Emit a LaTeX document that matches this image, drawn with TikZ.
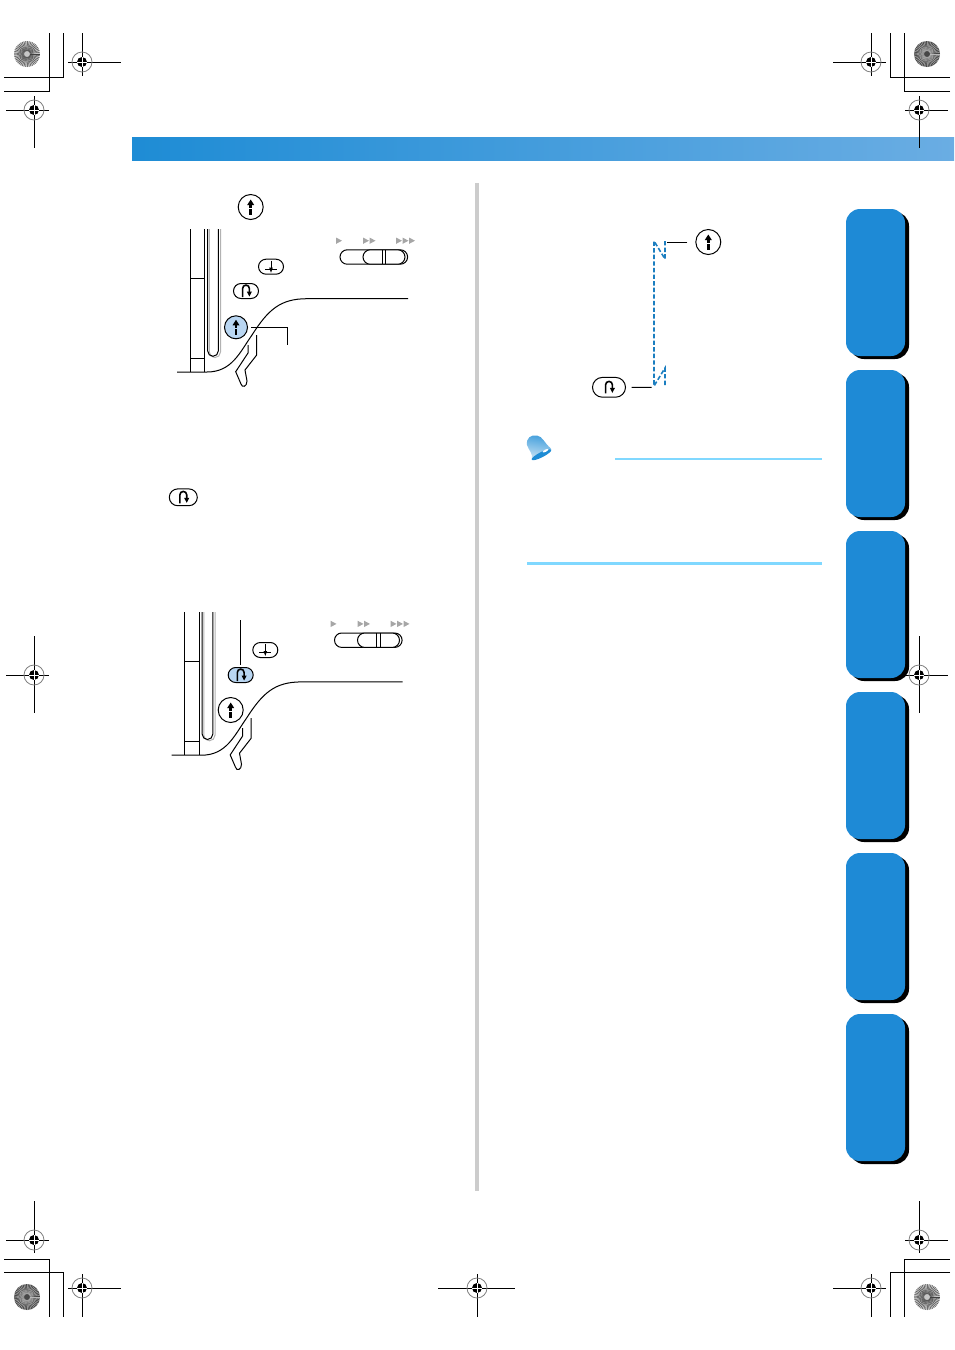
\documentclass[tikz,border=0pt]{standalone}
\usetikzlibrary{shapes.misc}

\definecolor{bandblue}{HTML}{1E8CD5}
\definecolor{bandlight}{HTML}{6AADE3}
\definecolor{tabblue}{HTML}{1E8AD6}
\definecolor{keyblue}{HTML}{B9D6F2}
\definecolor{ruleblue}{HTML}{80D8FF}

% glyphs of the machine keys, drawn around the middle of their node
\newcommand{\upglyph}{%
    \fill[black] (0,-7.5) -- (3.5,-2) -- (-3.5,-2) -- cycle;
    \fill[black] (-1.3,-3) rectangle (1.3,0.5);
    \fill[black] (-1.3,2) rectangle (1.3,8);
}
\newcommand{\revglyph}{%
    \draw[line width=0.8pt] (-3.4,6) -- (-3.4,-2.5) arc[start angle=180, end angle=360, radius=3.4] -- (3.4,1);
    \fill[black] (0.8,0.5) -- (6,0.5) -- (3.4,5.5) -- cycle;
}
\newcommand{\needleglyph}{%
    \draw (-6,2.5) -- (6,2.5);
    \draw (0,-6) -- (0,3);
    \fill[black] (-1.8,1) -- (1.8,1) -- (0,6) -- cycle;
}

% the arm, slider and lever that both panels share
\newcommand{\machinepanel}{%
    \draw (190.3,229) -- (190.3,372);
    \draw (204.7,229) -- (204.7,372);
    \draw (190.3,278) -- (204.7,278);
    \draw (190.3,358) -- (204.7,358);
    \draw[gray!60] (209.3,229) -- (209.3,352) arc[start angle=180, end angle=0, radius=5.6] -- (220.5,229);
    \draw (207.7,229) -- (207.7,351) arc[start angle=180, end angle=0, radius=5.3] -- (218.3,229);
    \draw[fill=white] (256.7,335) -- (256.7,355) -- (245,370) -- (247,381) .. controls (247,387) and (242,388) .. (241,384) -- (235.7,371.7) -- (248,353) -- (248,345);
    \draw (177,372) -- (207,372) .. controls (232,372) and (240,352) .. (252,335) .. controls (268,310) and (280,298.7) .. (307,298.7) -- (408,298.7);
    \foreach \tipx in {336,363,369.5,396,402.5,409}
        \fill[gray!70] (\tipx,237.5) -- ++(6,3.2) -- ++(-6,3.2) -- cycle;
    \node[pill, fill=white, minimum width=33.8pt, minimum height=7.2pt] (slider) at (373.8,257) {};
    \node[pill, fill=white, minimum width=21pt, minimum height=7.2pt] (knob) at (384,257) {};
    \draw (382,250) -- (382,264);
    \draw (385.7,250) -- (385.7,264);
}

\tikzset{
    pill/.style={rounded rectangle, draw, inner sep=0pt},
    upkey/.style={circle, draw, fill=white, inner sep=0pt, minimum size=12.5pt,
        path picture={\begin{scope}[shift={(path picture bounding box.center)}]\upglyph\end{scope}}},
    revkey/.style={pill, fill=white, minimum width={#1*12.5pt}, minimum height={#1*7.5pt},
        path picture={\begin{scope}[shift={(path picture bounding box.center)}, scale=#1]\revglyph\end{scope}}},
    revkey/.default=1,
    needlekey/.style={pill, fill=white, minimum width=12.5pt, minimum height=7.5pt,
        path picture={\begin{scope}[shift={(path picture bounding box.center)}]\needleglyph\end{scope}}},
}

\begin{document}
\begin{tikzpicture}[x=0.5pt, y=-0.5pt, line width=0.5pt]
    \useasboundingbox (0,0) rectangle (954,1350);

    % header band and column divider
    \shade[left color=bandblue, right color=bandlight] (132,137) rectangle (954,160.7);
    \fill[gray!40] (475,183) rectangle (479,1191);

    % side tabs
    \foreach \tabtop in {209,370,531,692,853,1014} {
        \fill[rounded corners=7pt] (850,\tabtop+3) rectangle (909,\tabtop+150);
        \fill[tabblue, rounded corners=7pt] (846,\tabtop) rectangle (905,\tabtop+147);
    }

    % crop corners
    \draw (4,77) -- (63,77) -- (63,33);
    \draw (4,91) -- (49,91) -- (49,33);
    \draw (950,77) -- (890,77) -- (890,33);
    \draw (950,91) -- (904,91) -- (904,33);
    \draw (4,1259) -- (49,1259) -- (49,1317);
    \draw (4,1272) -- (63,1272) -- (63,1317);
    \draw (950,1259) -- (904,1259) -- (904,1317);
    \draw (950,1272) -- (890,1272) -- (890,1317);

    % printer discs
    \foreach \discx/\discy/\discfill/\discline in {27/54/gray!45/black!75, 927/1297/gray!45/black!75, 927/54/black!72/gray!55, 27/1297/black!72/gray!55} {
        \fill[\discfill] (\discx,\discy) circle[radius=13];
        \foreach \spoke in {0,8,...,352}
            \draw[\discline, line width=0.2pt] (\discx,\discy) ++(\spoke:3) -- ++(\spoke:10);
    }

    % registration marks
    \foreach \markx/\marky/\wa/\wb/\ha/\hb in {82/62/14/39/29/14, 34/110/28/15/14/38, 871/62/38/15/29/14, 919/110/14/29/14/38,
            34/675/28/15/39/38, 919/675/14/29/39/38, 34/1240/28/15/39/13, 82/1288/14/39/14/29,
            919/1240/14/29/39/13, 871/1288/38/15/14/29, 477/1288/39/38/14/29} {
        \draw (\markx-\wa,\marky) -- (\markx+\wb,\marky);
        \draw (\markx,\marky-\ha) -- (\markx,\marky+\hb);
        \draw[gray, line width=0.4pt] (\markx,\marky) circle[radius=10];
        \fill (\markx,\marky) circle[radius=5];
        \draw[white, line width=0.25pt] (\markx-5,\marky) -- (\markx+5,\marky) (\markx,\marky-5) -- (\markx,\marky+5);
    }

    % first panel
    \machinepanel
    \node[upkey] (topkey) at (250.7,207) {};
    \node[needlekey] (needleA) at (271,266.7) {};
    \node[revkey] (revA) at (246,291) {};
    \node[upkey, fill=keyblue, minimum size=11.5pt] (startA) at (236,327.3) {};
    \coordinate (bendA) at (287,327.3);
    \coordinate (footA) at (287,345);
    \draw[shorten <=1.7pt] (startA) -- (bendA) -- (footA);

    \node[revkey=1.12] (revlone) at (183.3,497.3) {};

    % second panel
    \begin{scope}[shift={(-5.5,383.2)}]
        \machinepanel
    \end{scope}
    \node[needlekey] (needleB) at (265.3,650) {};
    \node[revkey, fill=keyblue] (revB) at (240.7,675) {};
    \node[upkey] (startB) at (230.7,710) {};
    \coordinate (headB) at (240.7,620);
    \draw[shorten <=1.2pt] (revB) -- (headB);

    % stitch line with its two keys
    \draw[bandblue!90!black, line width=0.8pt, dash pattern=on 2.2pt off 1.1pt]
        (665,241) -- (665,259) -- (654,241) -- (654,386) -- (665,368) -- (665,387);
    \node[upkey] (startC) at (708.3,242) {};
    \node[revkey=1.32] (revC) at (609,387.3) {};
    \coordinate (stitchA) at (667,242);
    \coordinate (stitchB) at (651.7,387.3);
    \path (startC) edge[shorten <=4pt] (stitchA)
          (revC) edge[shorten <=2.8pt] (stitchB);

    % note bell and rules
    \shade[left color=bandblue!85, right color=bandblue!25, shading angle=-10]
        (527,445) .. controls (526,438) and (531,434.5) .. (537,435.5) .. controls (543,436.5) and (544,443) .. (551,448.5)
        -- (532,459.5) .. controls (533,453) and (529,451) .. (527,445);
    \fill[bandblue, rotate around={27:(541.5,454.7)}] (541.5,454.7) ellipse[x radius=11, y radius=2.6];
    \fill[white, rotate around={27:(545.5,450.7)}] (545.5,450.7) ellipse[x radius=3.2, y radius=1.1];
    \fill[ruleblue] (615,458) rectangle (822,460);
    \fill[ruleblue] (527,562) rectangle (822,565);
\end{tikzpicture}
\end{document}
